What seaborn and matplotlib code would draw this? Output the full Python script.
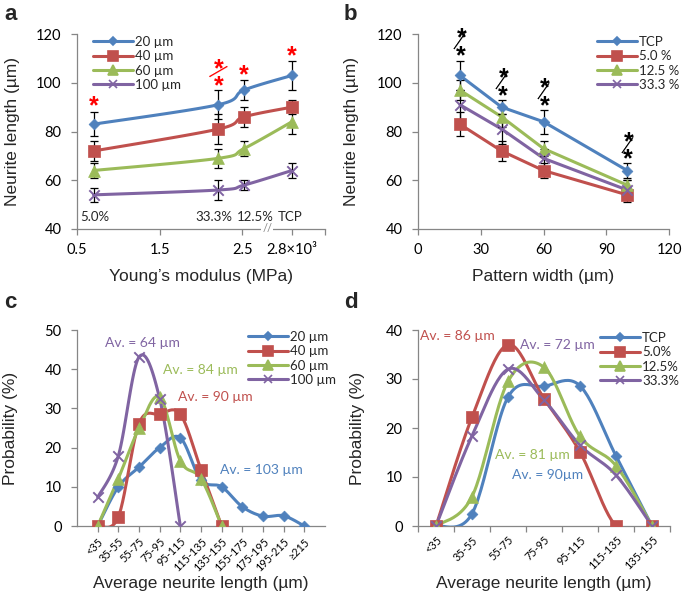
import matplotlib

matplotlib.use("Agg")
import matplotlib.pyplot as plt
import numpy as np
import pandas as pd
import seaborn as sns
from matplotlib.lines import Line2D

# ---- data -------------------------------------------------------------
widths = ["20 µm", "40 µm", "60 µm", "100 µm"]
width_um = [20, 40, 60, 100]
substrates = ["5.0%", "33.3%", "12.5%", "TCP"]
modulus_pos = [0.7, 2.21, 2.52, 3.1]  # position on the (broken) modulus axis
substrate_label_x = [0.72, 2.16, 2.66, 3.08]

mean_20 = [83, 91, 97, 103]
mean_40 = [72, 81, 86, 90]
mean_60 = [64, 69, 73, 84]
mean_100 = [54, 56, 58, 64]
err_20 = [5, 6, 4, 6]
err_40 = [4, 6, 4, 3]
err_60 = [3, 4, 3, 5]
err_100 = [3, 4, 2, 3]

# significance marks (y of the lower asterisk)
a_star_y = [93, 101, 105.5, 113.5]
a_star_double = [False, True, False, False]
b_star_y = [113.4, 97, 93, 71]

c_bins = ["<35", "35-55", "55-75", "75-95", "95-115", "115-135", "135-155",
          "155-175", "175-195", "195-215", "≥215"]
c_20 = [0, 10, 15, 20, 22.5, 11.7, 10, 4.9, 2.5, 2.6, 0]
c_40 = [0, 2.3, 26.1, 28.5, 28.5, 14.4, 0]
c_60 = [0, 12.1, 24.9, 32.9, 16.6, 12.1, 0]
c_100 = [7.3, 17.9, 43.1, 32.5, 0]
c_avg = ["Av. = 103 µm", "Av. = 90 µm", "Av. = 84 µm", "Av. = 64 µm"]
c_avg_pos = [(8.94, 14.3), (6.69, 32.9), (5.97, 39.8), (3.18, 46.7)]

d_bins = ["<35", "35-55", "55-75", "75-95", "95-115", "115-135", "135-155"]
d_labels = ["TCP", "5.0%", "12.5%", "33.3%"]
d_tcp = [0, 2.5, 26.3, 28.5, 28.6, 14.3, 0]
d_5 = [0, 22.2, 37.0, 26.0, 15.1, 0, 0]
d_12 = [0, 6.0, 29.5, 32.4, 18.3, 12.3, 0]
d_33 = [0, 18.4, 32.0, 25.7, 16.5, 10.4, 0]
d_avg = ["Av. = 90µm", "Av. = 86 µm", "Av. = 81 µm", "Av. = 72 µm"]
d_avg_pos = [(3.1, 10.4), (0.6, 38.7), (2.67, 14.5), (3.37, 37.0)]

# ---- style ------------------------------------------------------------
BLUE, RED, GREEN, PURPLE = "#4F81BD", "#C0504D", "#9BBB59", "#8064A2"
colors = [BLUE, RED, GREEN, PURPLE]
markers = ["D", "s", "^", "x"]
msizes = [5.5, 8.5, 8.5, 7.5]
SPINE = "#868686"
LABEL_FONT = ["Liberation Sans", "DejaVu Sans"]

sns.set_theme(style="ticks")
plt.rcParams["font.family"] = ["Lato", "DejaVu Sans"]


def smooth(x, y, sx, sy, n=24):
    """Excel-like smoothed path through the points (Bezier, tension 1/6)."""
    p = np.column_stack([np.asarray(x, float) * sx, np.asarray(y, float) * sy])
    ext = np.vstack([p[0], p, p[-1]])
    t = np.linspace(0, 1, n, endpoint=False)[:, None]
    parts = []
    for i in range(len(p) - 1):
        p0, p1, p2, p3 = ext[i], ext[i + 1], ext[i + 2], ext[i + 3]
        c1 = p1 + (p2 - p0) / 6
        c2 = p2 - (p3 - p1) / 6
        parts.append((1 - t) ** 3 * p1 + 3 * (1 - t) ** 2 * t * c1
                     + 3 * (1 - t) * t ** 2 * c2 + t ** 3 * p2)
    parts.append(p[-1:])
    path = np.vstack(parts)
    return path[:, 0] / sx, path[:, 1] / sy


def style_axes(ax):
    sns.despine(ax=ax)
    for s in ("left", "bottom"):
        ax.spines[s].set_color(SPINE)
        ax.spines[s].set_linewidth(0.9)
    ax.tick_params(colors=SPINE, labelcolor="black", length=4, width=0.9,
                   labelsize=10.5)
    ax.tick_params(axis="y", pad=7)
    ax.tick_params(axis="x", pad=6)


def labels(ax, xlabel, ylabel, xpos, ypos):
    ax.set_xlabel(xlabel, fontsize=12.5, family=LABEL_FONT)
    ax.set_ylabel(ylabel, fontsize=12.5, family=LABEL_FONT)
    ax.xaxis.set_label_coords(0.5, xpos)
    ax.yaxis.set_label_coords(ypos, 0.5)
    ax.xaxis.label.set_verticalalignment("center")
    ax.yaxis.label.set_verticalalignment("center")


def draw_series(ax, x, y, color, marker, ms, sx, sy, smooth_it=True):
    if smooth_it:
        cx, cy = smooth(x, y, sx, sy)
    else:
        cx, cy = np.asarray(x, float), np.asarray(y, float)
    sns.lineplot(x=cx, y=cy, sort=False, estimator=None, color=color,
                 linewidth=2.2, ax=ax, zorder=3)
    filled = marker != "x"
    sns.scatterplot(x=x, y=y, marker=marker, s=ms ** 2, color=color,
                    edgecolor=color if filled else None,
                    linewidth=0.5 if filled else 1.4, ax=ax, zorder=5,
                    legend=False)


def legend(ax, labels, anchor):
    handles = [Line2D([], [], color=c, marker=m, markersize=ms * 0.8, lw=2.2,
                      mec=c, mew=1.2) for c, m, ms in zip(colors, markers, msizes)]
    ax.legend(handles, labels, loc="upper left", bbox_to_anchor=anchor,
              frameon=False, fontsize=9.5, handlelength=3.0, handletextpad=0.2,
              labelspacing=0.18, borderpad=0, borderaxespad=0)


def star(ax, x, y, color, size=18):
    ax.annotate("*", (x, y), xytext=(0, -4.5), textcoords="offset points",
                ha="center", va="center", color=color, fontsize=size,
                fontweight="bold", family=LABEL_FONT, annotation_clip=False)


long = pd.DataFrame({
    "width": np.repeat(widths, 4),
    "width_um": np.repeat(width_um, 4),
    "substrate": substrates * 4,
    "modulus": modulus_pos * 4,
    "length": mean_20 + mean_40 + mean_60 + mean_100,
    "err": err_20 + err_40 + err_60 + err_100,
})

fig = plt.figure(figsize=(6.85, 5.96), dpi=100)
W, H = 685, 596


def px_axes(left, top, right, bottom):
    return fig.add_axes([left / W, 1 - bottom / H, (right - left) / W,
                         (bottom - top) / H])


# ---- panel a ------------------------------------------------------------
ax = px_axes(77, 34, 325, 229)
for w, c, m, ms in zip(widths, colors, markers, msizes):
    sub = long[long["width"] == w]
    ax.errorbar(sub["modulus"], sub["length"], yerr=sub["err"], fmt="none",
                ecolor="black", elinewidth=0.9, capsize=3, capthick=0.9, zorder=4)
    draw_series(ax, sub["modulus"].to_numpy(), sub["length"].to_numpy(), c, m, ms,
                83, 2.44)
ax.set_xlim(0.5, 3.5)
ax.set_ylim(40, 120)
ax.set_yticks([40, 60, 80, 100, 120])
ax.set_xticks([0.5, 1.5, 2.5, modulus_pos[-1], 3.5])
ax.set_xticklabels(["0.5", "1.5", "2.5", "2.8×10³", ""])
style_axes(ax)
for xp, lab in zip(substrate_label_x, substrates):
    ax.text(xp, 45, lab, ha="center", va="center", fontsize=9.5)
ax.text(2.8, 40, "//", ha="center", va="center", fontsize=8, color=SPINE,
        bbox=dict(facecolor="white", edgecolor="none", pad=0.5), clip_on=False)
for xp, ys, dbl in zip(modulus_pos, a_star_y, a_star_double):
    star(ax, xp, ys, "red")
    if dbl:
        ax.text(xp, ys + 3.7, "—", rotation=30, ha="center", va="center",
                color="red", fontsize=15, family=LABEL_FONT)
        star(ax, xp, ys + 7, "red")
labels(ax, "Young’s modulus (MPa)", "Neurite length (µm)", -0.246, -0.262)
legend(ax, widths, (0.065, 0.99))

# ---- panel b ------------------------------------------------------------
ax = px_axes(418, 34, 669, 229)
b_order = ["TCP", "5.0%", "12.5%", "33.3%"]
for s, c, m, ms in zip(b_order, colors, markers, msizes):
    sub = long[long["substrate"] == s]
    ax.errorbar(sub["width_um"], sub["length"], yerr=sub["err"], fmt="none",
                ecolor="black", elinewidth=0.9, capsize=3, capthick=0.9, zorder=4)
    draw_series(ax, sub["width_um"].to_numpy(), sub["length"].to_numpy(), c, m, ms,
                2.09, 2.44, smooth_it=False)
ax.set_xlim(0, 120)
ax.set_ylim(40, 120)
ax.set_xticks([0, 30, 60, 90, 120])
ax.set_yticks([40, 60, 80, 100, 120])
style_axes(ax)
for xp, ys in zip(width_um, b_star_y):
    star(ax, xp + 0.5, ys, "black")
    ax.text(xp + 0.2, ys + 3.8, "—", rotation=55, ha="center", va="center",
            color="black", fontsize=14, family=LABEL_FONT)
    star(ax, xp + 0.8, ys + 7.3, "black")
labels(ax, "Pattern width (µm)", "Neurite length (µm)", -0.246, -0.263)
legend(ax, ["TCP", "5.0 %", "12.5 %", "33.3 %"], (0.713, 0.99))

# ---- panel c ------------------------------------------------------------
ax = px_axes(77, 330, 325, 526)
for ys, c, m, ms in zip([c_20, c_40, c_60, c_100], colors, markers, msizes):
    xs = np.arange(1, len(ys) + 1)
    draw_series(ax, xs, ys, c, m, ms, 20.8, 3.92)
for txt, (xp, yp), c in zip(c_avg, c_avg_pos, colors):
    ax.text(xp, yp, txt, ha="center", va="center", color=c, fontsize=10)
ax.set_xlim(0, 12)
ax.set_ylim(0, 50)
ax.set_yticks([0, 10, 20, 30, 40, 50])
ax.set_xticks(np.arange(1, len(c_bins) + 1))
ax.set_xticklabels(c_bins, rotation=45, ha="right", rotation_mode="anchor")
style_axes(ax)
ax.tick_params(axis="x", labelsize=7.8, pad=3)
labels(ax, "Average neurite length (µm)", "Probability (%)", -0.291, -0.27)
legend(ax, widths, (0.69, 0.995))

# ---- panel d ------------------------------------------------------------
ax = px_axes(418, 330, 670, 526)
for ys, c, m, ms in zip([d_tcp, d_5, d_12, d_33], colors, markers, msizes):
    xs = np.arange(len(ys))
    draw_series(ax, xs, ys, c, m, ms, 35.7, 4.89)
for txt, (xp, yp), c in zip(d_avg, d_avg_pos, colors):
    ax.text(xp, yp, txt, ha="center", va="center", color=c, fontsize=10)
ax.set_xlim(-0.5, 6.5)
ax.set_ylim(0, 40)
ax.set_yticks([0, 10, 20, 30, 40])
ax.set_xticks(np.arange(len(d_bins)))
ax.set_xticklabels(d_bins, rotation=45, ha="right", rotation_mode="anchor")
ax.set_xticks(np.arange(len(d_bins) + 1) - 0.5, minor=True)
style_axes(ax)
ax.tick_params(axis="x", which="major", length=0, labelsize=7.8, pad=6)
ax.tick_params(axis="x", which="minor", length=4, width=0.9, color=SPINE)
labels(ax, "Average neurite length (µm)", "Probability (%)", -0.291, -0.242)
legend(ax, d_labels, (0.722, 0.99))

# ---- panel letters --------------------------------------------------------
for lab, (x, y) in zip("abcd", [(4, 15), (344, 15), (4, 303), (344, 303)]):
    fig.text(x / W, 1 - y / H, lab, fontsize=16, fontweight="bold",
             family=LABEL_FONT, va="center", ha="left")

fig.savefig("out.png", dpi=100)
